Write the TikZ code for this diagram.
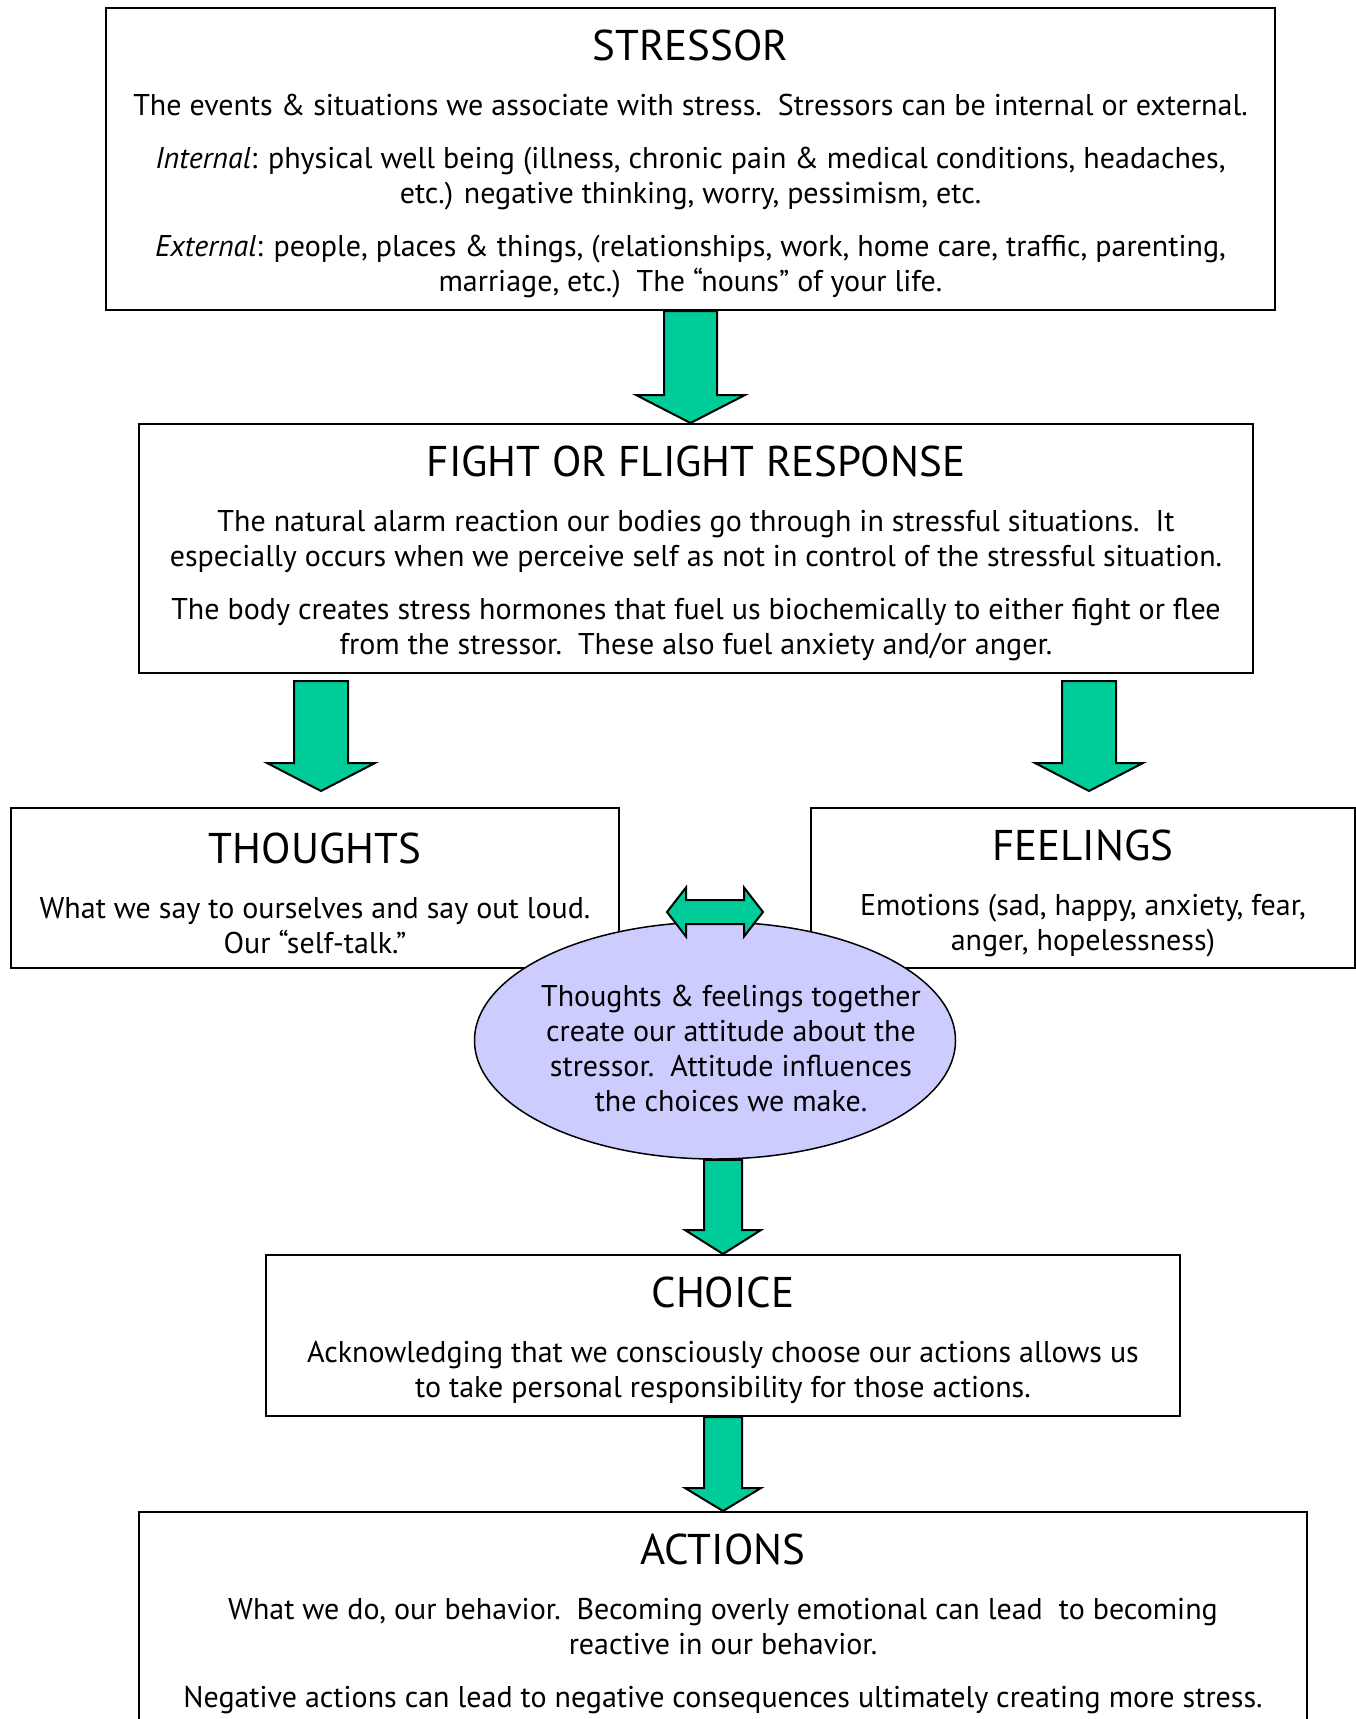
\documentclass[tikz,border=0pt]{standalone}
\usepackage{fontspec}
\setmainfont{PT Sans}
\usetikzlibrary{positioning, shapes.geometric, calc}

\definecolor{arrowgreen}{RGB}{0,204,153}
\definecolor{ovalblue}{RGB}{204,204,255}

\newcommand{\boxtitle}[1]{{\fontsize{43}{48}\selectfont\rule{0pt}{41pt}#1}}
% block arrow from top coordinate #1 down to tip coordinate #2
% #3 half shaft, #4 half head, #5 head length
\newcommand{\greenarrow}[5]{%
  \draw[blockarrow] ($(#1)+(-#3,0)$) -- ($(#2)+(-#3,-#5)$) -- ($(#2)+(-#4,-#5)$) -- (#2)
    -- ($(#2)+(#4,-#5)$) -- ($(#2)+(#3,-#5)$) -- ($(#1)+(#3,0)$) -- cycle;}

\begin{document}
\begin{tikzpicture}[x=1pt, y=-1pt,
        box/.style={draw, rectangle, line width=2pt, align=center, inner sep=0pt,
            font=\fontsize{30}{35}\selectfont},
        oval/.style={draw, ellipse, line width=1.5pt, fill=ovalblue, inner sep=0pt},
        blockarrow/.style={draw, line width=2pt, fill=arrowgreen, line join=miter}]

    \useasboundingbox (0,0) rectangle (1356,1719);

    % Boxes
    \node[box, minimum width=1169pt, minimum height=302pt] (stressor) at (690.5,159) {%
        \boxtitle{STRESSOR}\\[20pt]
        The events \& situations we associate with stress.\ \ Stressors can be internal or external.\\[18pt]
        \textit{Internal}: physical well being (illness, chronic pain \& medical conditions, headaches,\\
        etc.) negative thinking, worry, pessimism, etc.\\[18pt]
        \textit{External}: people, places \& things, (relationships, work, home care, traffic, parenting,\\
        marriage, etc.)\ \ The “nouns” of your life.};

    \node[box, minimum width=1114pt, minimum height=249pt] (fight) at (696,548.5) {%
        \boxtitle{FIGHT OR FLIGHT RESPONSE}\\[20pt]
        The natural alarm reaction our bodies go through in stressful situations.\ \ It\\
        especially occurs when we perceive self as not in control of the stressful situation.\\[18pt]
        The body creates stress hormones that fuel us biochemically to either fight or flee\\
        from the stressor.\ \ These also fuel anxiety and/or anger.};

    \node[box, minimum width=608pt, minimum height=160pt] (thoughts) at (315,888) {%
        \boxtitle{THOUGHTS}\\[20pt]
        What we say to ourselves and say out loud.\\
        Our “self-talk.”};

    \node[box, minimum width=544pt, minimum height=160pt] (feelings) at (1083,888) {%
        \boxtitle{FEELINGS}\\[20pt]
        Emotions (sad, happy, anxiety, fear,\\
        anger, hopelessness)};

    \node[box, minimum width=914pt, minimum height=161pt] (choice) at (723,1335.5) {%
        \boxtitle{CHOICE}\\[20pt]
        Acknowledging that we consciously choose our actions allows us\\
        to take personal responsibility for those actions.};

    \node[box, minimum width=1168pt, minimum height=213pt] (actions) at (723,1618.5) {%
        \boxtitle{ACTIONS}\\[20pt]
        What we do, our behavior.\ \ Becoming overly emotional can lead\ \ to becoming\\
        reactive in our behavior.\\[18pt]
        Negative actions can lead to negative consequences ultimately creating more stress.};

    % Attitude oval over the two boxes
    \node[oval, minimum width=481pt, minimum height=237pt] (attitude) at (715,1040.5) {};
    \node[align=center, inner sep=0pt, font=\fontsize{30}{35}\selectfont] (attitudetext)
        at ($(attitude.center)+(16,8)$) {Thoughts \& feelings together\\
        create our attitude about the\\
        stressor.\ \ Attitude influences\\
        the choices we make.};

    % Arrow end points
    \coordinate (a1top) at (stressor.south);
    \coordinate (a1tip) at (stressor.south |- fight.north);
    \coordinate (a2top) at ($(fight.south -| thoughts.north)+(6,7)$);
    \coordinate (a2tip) at ($(thoughts.north)+(6,-16)$);
    \coordinate (a3top) at ($(fight.south -| feelings.north)+(6,7)$);
    \coordinate (a3tip) at ($(feelings.north)+(6,-16)$);
    \coordinate (a4top) at (attitude.south -| choice.north);
    \coordinate (a4tip) at (choice.north);
    \coordinate (a5top) at (choice.south);
    \coordinate (a5tip) at (actions.north);

    \greenarrow{a1top}{a1tip}{26.5}{54.5}{28}
    \greenarrow{a2top}{a2tip}{27}{54}{28}
    \greenarrow{a3top}{a3tip}{27}{54}{28}
    \greenarrow{a4top}{a4tip}{19}{38}{24}
    \greenarrow{a5top}{a5tip}{19}{38}{23}

    % Two-way arrow between thoughts and feelings
    \coordinate (link) at ($(thoughts.east)!0.5!(feelings.west)+(0,24)$);
    \draw[blockarrow] ($(link)+(-48,0)$) -- ++(19,-24.5) -- ++(0,12.5) -- ++(58,0) -- ++(0,-12.5)
        -- ++(19,24.5) -- ++(-19,24.5) -- ++(0,-12.5) -- ++(-58,0) -- ++(0,12.5) -- cycle;
\end{tikzpicture}
\end{document}
